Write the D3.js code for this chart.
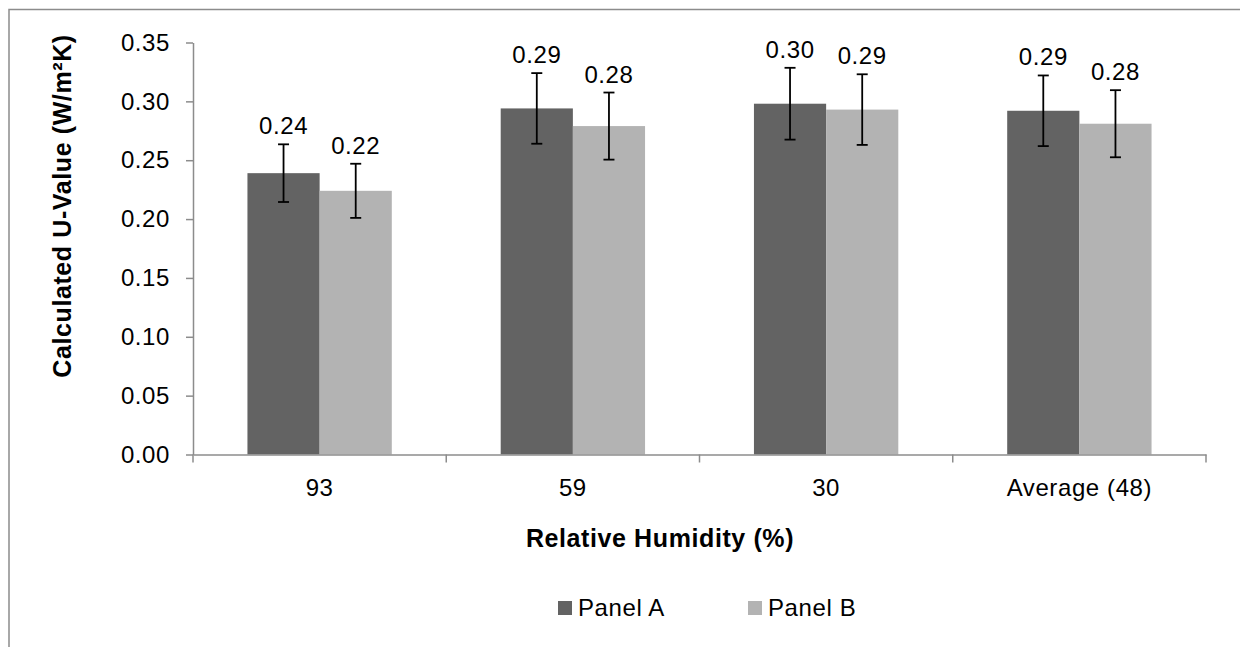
<!DOCTYPE html>
<html lang="en">
<head>
  <meta charset="UTF-8">
  <title>Calculated U-Value by Relative Humidity</title>
  <script src="https://d3js.org/d3.v7.min.js"></script>
  <style>
    body { margin: 0; background: #fff; }
    svg { display: block; font-family: "Liberation Sans", Arial, sans-serif; }
  </style>
</head>
<body>
  <script>
    // data
    const categories = ['93', '59', '30', 'Average (48)']
    const seriesNames = ['Panel A', 'Panel B']
    const panelA = [0.239, 0.294, 0.298, 0.292]
    const panelB = [0.224, 0.279, 0.293, 0.281]
    const errA = [0.0245, 0.030, 0.0305, 0.030]
    const errB = [0.023, 0.0285, 0.030, 0.0285]
    const yTicks = [0, 0.05, 0.10, 0.15, 0.20, 0.25, 0.30, 0.35]

    const w = 1240
    const h = 647
    const colors = ['#636363', '#b3b3b3']

    const plot = { left: 193, right: 1206, top: 42.5, bottom: 454.5 }

    const svg = d3.select('body')
      .append('svg')
      .attr('width', w)
      .attr('height', h)

    // chart area border (runs off the right and bottom edge)
    svg.append('rect')
      .attr('x', 9)
      .attr('y', 9.5)
      .attr('width', w + 20)
      .attr('height', h + 20)
      .attr('fill', 'none')
      .attr('stroke', '#8c8c8c')
      .attr('stroke-width', 1.5)

    // scales
    const x = d3.scaleBand()
      .domain(categories)
      .range([plot.left, plot.right])
      .paddingInner(0.43)
      .paddingOuter(0.215)

    const xSub = d3.scaleBand()
      .domain(seriesNames)
      .range([0, x.bandwidth()])

    const y = d3.scaleLinear()
      .domain([0, 0.35])
      .range([plot.bottom, plot.top])

    const rows = categories.map((c, i) => ({
      cat: c,
      vals: [
        { s: seriesNames[0], v: panelA[i], e: errA[i], color: colors[0] },
        { s: seriesNames[1], v: panelB[i], e: errB[i], color: colors[1] }
      ]
    }))

    // bars
    const groups = svg.selectAll('g.group')
      .data(rows)
      .enter()
      .append('g')
      .attr('class', 'group')
      .attr('transform', d => `translate(${x(d.cat)},0)`)

    groups.selectAll('rect')
      .data(d => d.vals)
      .enter()
      .append('rect')
      .attr('x', d => xSub(d.s))
      .attr('y', d => y(d.v))
      .attr('width', xSub.bandwidth())
      .attr('height', d => y(0) - y(d.v))
      .attr('fill', d => d.color)

    // error bars
    const cap = 5.5
    const errs = groups.selectAll('g.err')
      .data(d => d.vals)
      .enter()
      .append('g')
      .attr('class', 'err')
      .attr('stroke', '#000')
      .attr('stroke-width', 1.8)

    errs.append('line')
      .attr('x1', d => xSub(d.s) + xSub.bandwidth() / 2)
      .attr('x2', d => xSub(d.s) + xSub.bandwidth() / 2)
      .attr('y1', d => y(d.v + d.e))
      .attr('y2', d => y(d.v - d.e))
    errs.append('line')
      .attr('x1', d => xSub(d.s) + xSub.bandwidth() / 2 - cap)
      .attr('x2', d => xSub(d.s) + xSub.bandwidth() / 2 + cap)
      .attr('y1', d => y(d.v + d.e))
      .attr('y2', d => y(d.v + d.e))
    errs.append('line')
      .attr('x1', d => xSub(d.s) + xSub.bandwidth() / 2 - cap)
      .attr('x2', d => xSub(d.s) + xSub.bandwidth() / 2 + cap)
      .attr('y1', d => y(d.v - d.e))
      .attr('y2', d => y(d.v - d.e))

    // value labels above the error bars
    groups.selectAll('text.val')
      .data(d => d.vals)
      .enter()
      .append('text')
      .attr('class', 'val')
      .attr('x', d => xSub(d.s) + xSub.bandwidth() / 2)
      .attr('y', d => y(d.v + d.e) - 10)
      .attr('text-anchor', 'middle')
      .attr('font-size', 24)
      .attr('letter-spacing', 0.6)
      .attr('fill', '#000')
      .text(d => d3.format('.2f')(d.v))

    // y axis
    const yAxis = d3.axisLeft(y)
      .tickValues(yTicks)
      .tickFormat(d3.format('.2f'))
      .tickSize(7)
      .tickSizeOuter(0)
      .tickPadding(16)

    const gy = svg.append('g')
      .attr('transform', `translate(${plot.left},0)`)
      .call(yAxis)
    gy.select('.domain').attr('stroke', '#8c8c8c').attr('stroke-width', 1.5)
    gy.selectAll('.tick line').attr('stroke', '#8c8c8c').attr('stroke-width', 1.5)
    gy.selectAll('.tick text')
      .attr('font-size', 24)
      .attr('letter-spacing', 0.6)
      .attr('font-family', '"Liberation Sans", Arial, sans-serif')
      .attr('fill', '#000')

    // x axis: labels centred in bands, ticks on band boundaries
    const xAxis = d3.axisBottom(x)
      .tickSize(0)
      .tickSizeOuter(0)
      .tickPadding(24)

    const gx = svg.append('g')
      .attr('transform', `translate(0,${plot.bottom})`)
      .call(xAxis)
    gx.select('.domain').attr('stroke', '#8c8c8c').attr('stroke-width', 1.5)
    gx.selectAll('.tick text')
      .attr('font-size', 24)
      .attr('letter-spacing', 0.6)
      .attr('font-family', '"Liberation Sans", Arial, sans-serif')
      .attr('fill', '#000')

    const boundaries = d3.range(categories.length + 1).map(i => plot.left + i * x.step())
    gx.selectAll('line.bound')
      .data(boundaries)
      .enter()
      .append('line')
      .attr('class', 'bound')
      .attr('x1', d => d)
      .attr('x2', d => d)
      .attr('y1', 0)
      .attr('y2', 8)
      .attr('stroke', '#8c8c8c')
      .attr('stroke-width', 1.5)

    // axis titles
    svg.append('text')
      .attr('transform', 'translate(71,206) rotate(-90)')
      .attr('text-anchor', 'middle')
      .attr('font-size', 25)
      .attr('font-weight', 'bold')
      .attr('letter-spacing', 0.6)
      .text('Calculated U-Value (W/m²K)')

    svg.append('text')
      .attr('x', 660)
      .attr('y', 547)
      .attr('text-anchor', 'middle')
      .attr('font-size', 25)
      .attr('font-weight', 'bold')
      .attr('letter-spacing', 0.6)
      .text('Relative Humidity (%)')

    // legend
    const legendX = [558, 748]
    const legend = svg.selectAll('g.legend')
      .data(seriesNames)
      .enter()
      .append('g')
      .attr('class', 'legend')
      .attr('transform', (d, i) => `translate(${legendX[i]},601)`)

    legend.append('rect')
      .attr('width', 14)
      .attr('height', 14)
      .attr('fill', (d, i) => colors[i])

    legend.append('text')
      .attr('x', 20)
      .attr('y', 15)
      .attr('font-size', 24)
      .attr('letter-spacing', 0.6)
      .text(d => d)
  </script>
</body>
</html>
